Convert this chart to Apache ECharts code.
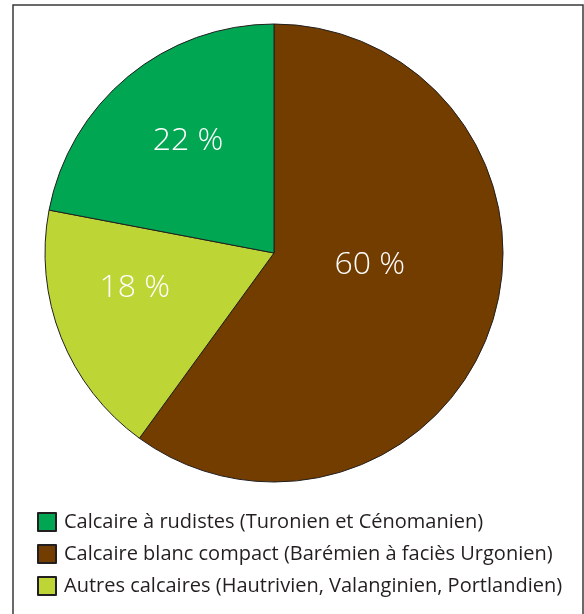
<!DOCTYPE html>
<html>
<head>
<meta charset="utf-8">
<script src="https://cdn.jsdelivr.net/npm/echarts@6/dist/echarts.min.js"></script>
<style>
  html, body { margin: 0; padding: 0; background: #fff; }
  #chart { width: 584px; height: 614px; }
</style>
</head>
<body>
<div id="chart"></div>
<script>
  // données (sens horaire depuis midi)
  const categories = [
    'Calcaire blanc compact (Barémien à faciès Urgonien)',
    'Autres calcaires (Hautrivien, Valanginien, Portlandien)',
    'Calcaire à rudistes (Turonien et Cénomanien)'
  ]
  const values = [60, 18, 22]
  const colors = ['#733d00', '#bdd535', '#00a651']
  // ordre de la légende
  const legendOrder = [categories[2], categories[0], categories[1]]

  // petits décalages des étiquettes, comme sur l'original
  const labelShift = [[-16, -24], [-30, -8], [-11, -22]]

  const chart = echarts.init(document.getElementById('chart'))
  chart.setOption({
    animation: false,
    textStyle: { fontFamily: 'Open Sans' },
    graphic: [{
      type: 'rect',
      shape: { x: 13, y: 5, width: 570, height: 640 },
      style: { fill: 'none', stroke: '#3a3a3a', lineWidth: 1.5 },
      silent: true
    }],
    legend: {
      data: legendOrder,
      orient: 'vertical',
      left: 32,
      top: 507,
      itemWidth: 18,
      itemHeight: 18,
      itemGap: 12,
      icon: 'rect',
      textStyle: {
        fontSize: 20,
        lineHeight: 18,
        color: '#231f20',
        padding: [0, 0, 0, 3]
      }
    },
    series: [{
      type: 'pie',
      center: [274, 253],
      radius: 229,
      startAngle: 90,
      clockwise: true,
      silent: true,
      itemStyle: { borderColor: '#231f20', borderWidth: 1 },
      label: {
        position: 'inside',
        formatter: '{c} %',
        color: '#fff',
        fontSize: 32,
        fontWeight: 300,
        fontFamily: 'Open Sans'
      },
      labelLayout: function (params) {
        const s = labelShift[params.dataIndex]
        return { dx: s[0], dy: s[1] }
      },
      data: categories.map(function (name, i) {
        return { name: name, value: values[i], itemStyle: { color: colors[i] } }
      })
    }]
  })
</script>
</body>
</html>
